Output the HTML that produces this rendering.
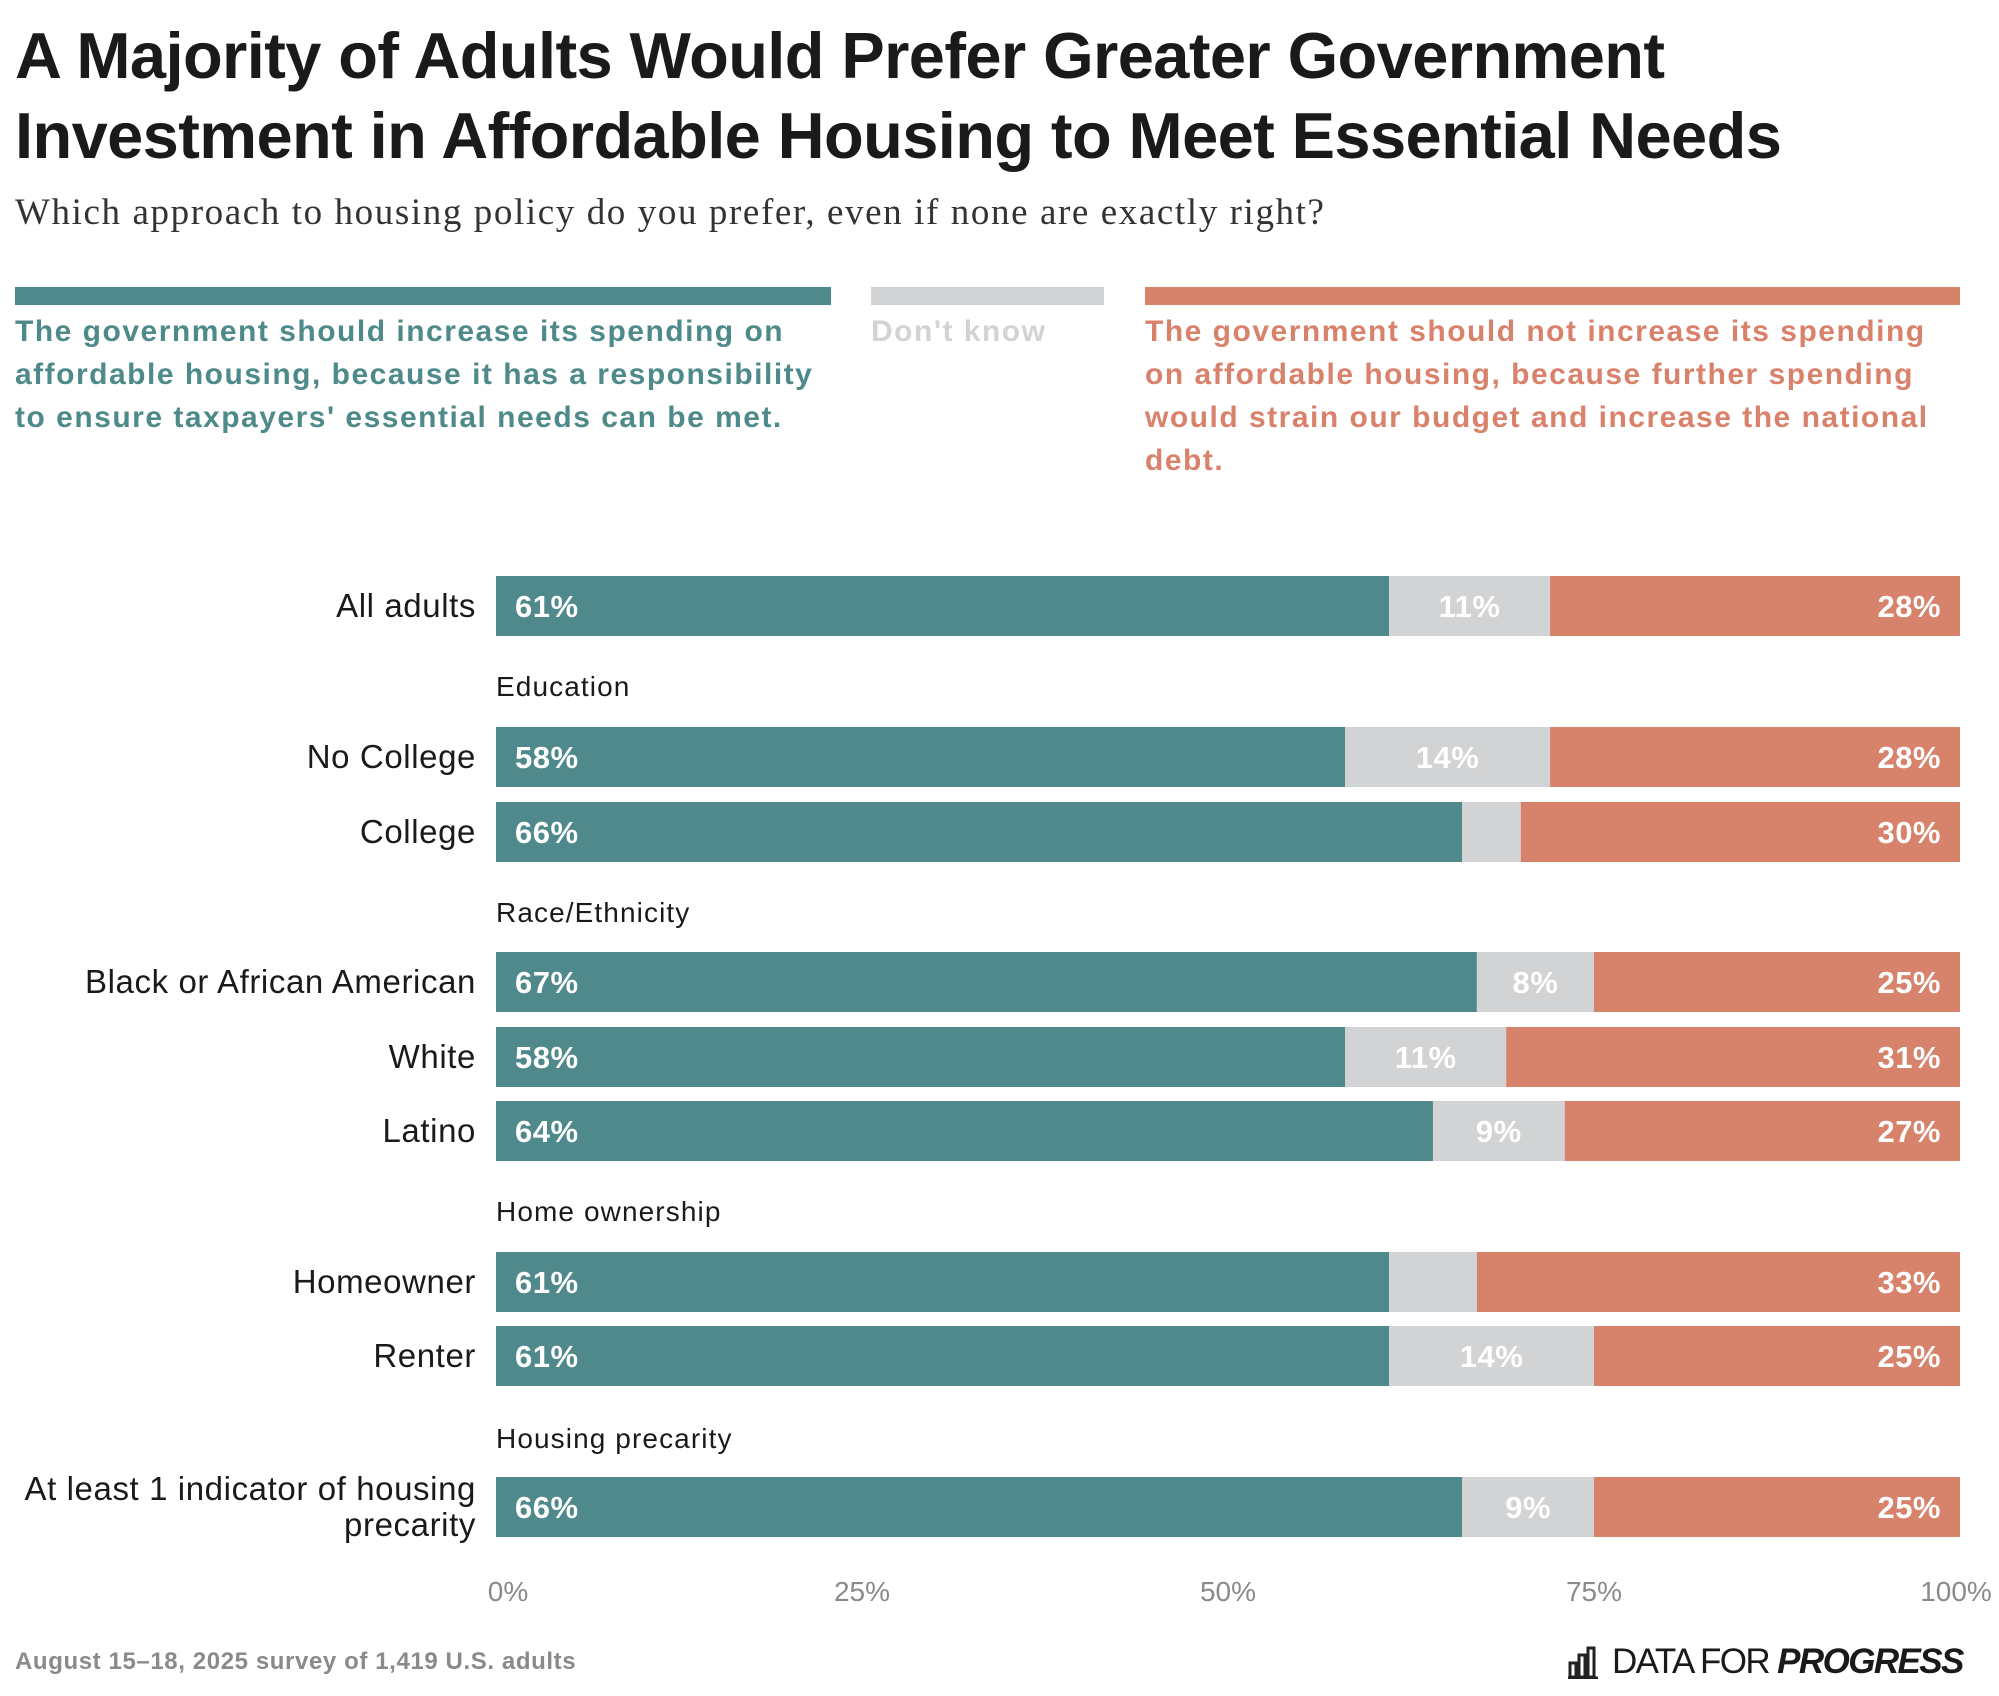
<!DOCTYPE html>
<html><head><meta charset="utf-8"><style>
html,body{margin:0;padding:0;background:#fff;}
body{width:1999px;height:1696px;position:relative;overflow:hidden;font-family:"Liberation Sans",sans-serif;}
.t{position:absolute;white-space:nowrap;}
</style></head><body>
<div class="t" style="left:15px;top:16px;font-size:65px;font-weight:bold;color:#1a1a1a;line-height:80px;letter-spacing:-0.6px">A Majority of Adults Would Prefer Greater Government<br>Investment in Affordable Housing to Meet Essential Needs</div>
<div class="t" style="left:15px;top:191px;font-family:'Liberation Serif',serif;font-size:37px;color:#333;letter-spacing:1.6px">Which approach to housing policy do you prefer, even if none are exactly right?</div>

<div style="position:absolute;left:15px;top:287px;width:816px;height:18px;background:#4f898b"></div>
<div style="position:absolute;left:871px;top:287px;width:233px;height:18px;background:#d2d3d4"></div>
<div style="position:absolute;left:1145px;top:287px;width:815px;height:18px;background:#d7826b"></div>
<div class="t" style="left:15px;top:310px;font-size:30px;font-weight:bold;color:#4f8a8b;line-height:43px;letter-spacing:1.5px">The government should increase its spending on<br>affordable housing, because it has a responsibility<br>to ensure taxpayers' essential needs can be met.</div>
<div class="t" style="left:871px;top:310px;font-size:30px;font-weight:bold;color:#d2d3d4;line-height:43px;letter-spacing:1.5px">Don't know</div>
<div class="t" style="left:1145px;top:310px;font-size:30px;font-weight:bold;color:#d9826b;line-height:43px;letter-spacing:1.5px">The government should not increase its spending<br>on affordable housing, because further spending<br>would strain our budget and increase the national<br>debt.</div>

<svg id="chart" width="1999" height="1696" style="position:absolute;left:0;top:0" xmlns="http://www.w3.org/2000/svg"></svg>

<div class="t" style="left:15px;top:1648px;font-size:24px;font-weight:bold;color:#8a8a8a;letter-spacing:0.6px">August 15–18, 2025 survey of 1,419 U.S. adults</div>
<div style="position:absolute;left:1568px;top:1640px;height:44px;display:flex;align-items:center;white-space:nowrap">
<svg width="32" height="34"><g fill="none" stroke="#222" stroke-width="3"><rect x="2" y="18" width="6" height="14"/><rect x="11" y="10" width="6" height="22"/><rect x="20" y="3" width="6" height="29"/><line x1="0" y1="33" x2="30" y2="33"/></g></svg>
<span style="font-size:35px;color:#1a1a1a;margin-left:12px;letter-spacing:-1.6px;white-space:nowrap">DATA FOR <b style="font-style:italic">PROGRESS</b></span>
</div>

<script>
const categories=["All adults","No College","College","Black or African American","White","Latino","Homeowner","Renter","At least 1 indicator of housing precarity"];
const increase=[61,58,66,67,58,64,61,61,66];
const dontKnow=[11,14,4,8,11,9,6,14,9];
const notIncrease=[28,28,30,25,31,27,33,25,25];
const groups=["Education","Race/Ethnicity","Home ownership","Housing precarity"];
const ticks=[0,25,50,75,100];

const svg=document.getElementById('chart');
const NS="http://www.w3.org/2000/svg";
const x0=496,x1=1960,barH=60;
const rowTop=[576,727,802,952,1027,1101,1252,1326,1477];
const groupY=[687,913,1212,1439];
function xs(v){return x0+(x1-x0)*v/100;}
function mk(tag,attrs,text){const e=document.createElementNS(NS,tag);for(const k in attrs)e.setAttribute(k,attrs[k]);if(text!==undefined)e.textContent=text;svg.appendChild(e);return e;}
const cols=["#4f898b","#d2d3d4","#d7826b"];
const segNames=["increase","dont-know","not-increase"];
categories.forEach((c,i)=>{
  const y=rowTop[i];
  const vals=[increase[i],dontKnow[i],notIncrease[i]];
  const tot=vals[0]+vals[1]+vals[2];
  let acc=0;
  vals.forEach((v,j)=>{
    const a=xs(acc/tot*100),b=xs((acc+v)/tot*100);
    const r=mk('rect',{x:a,y:y,width:b-a,height:barH,fill:cols[j]});
    
    
    let tx,anchor;
    if(j===0){tx=a+19;anchor='start';}else if(j===2){tx=b-19;anchor='end';}else{tx=(a+b)/2;anchor='middle';}
    if(v>=8){
      const t=mk('text',{x:tx,y:y+barH/2+11,'text-anchor':anchor,fill:'#fff','font-size':31,'font-weight':'bold','letter-spacing':0.5,'font-family':'Liberation Sans, sans-serif'},v+'%');
      
      
    }
    acc+=v;
  });
  const lines=c==="At least 1 indicator of housing precarity"?["At least 1 indicator of housing","precarity"]:[c];
  lines.forEach((ln,k)=>{
    const off=lines.length===1?11:(k===0?-7:29);
    const t=mk('text',{x:476,y:y+barH/2+off,'text-anchor':'end',fill:'#1a1a1a','font-size':33,'letter-spacing':0.6,'font-family':'Liberation Sans, sans-serif'},ln);
    
    
  });
});
groups.forEach((g,i)=>{
  const t=mk('text',{x:496,y:groupY[i]+9,fill:'#1a1a1a','font-size':28,'letter-spacing':1.1,'font-family':'Liberation Sans, sans-serif'},g);
  
  
});
ticks.forEach((v,i)=>{
  const t=mk('text',{x:xs(v)+(v===0?12:(v===100?-4:0)),y:1601,'text-anchor':'middle',fill:'#8a8a8a','font-size':28,'font-family':'Liberation Sans, sans-serif'},v+'%');
  
  
});
</script>
</body></html>
